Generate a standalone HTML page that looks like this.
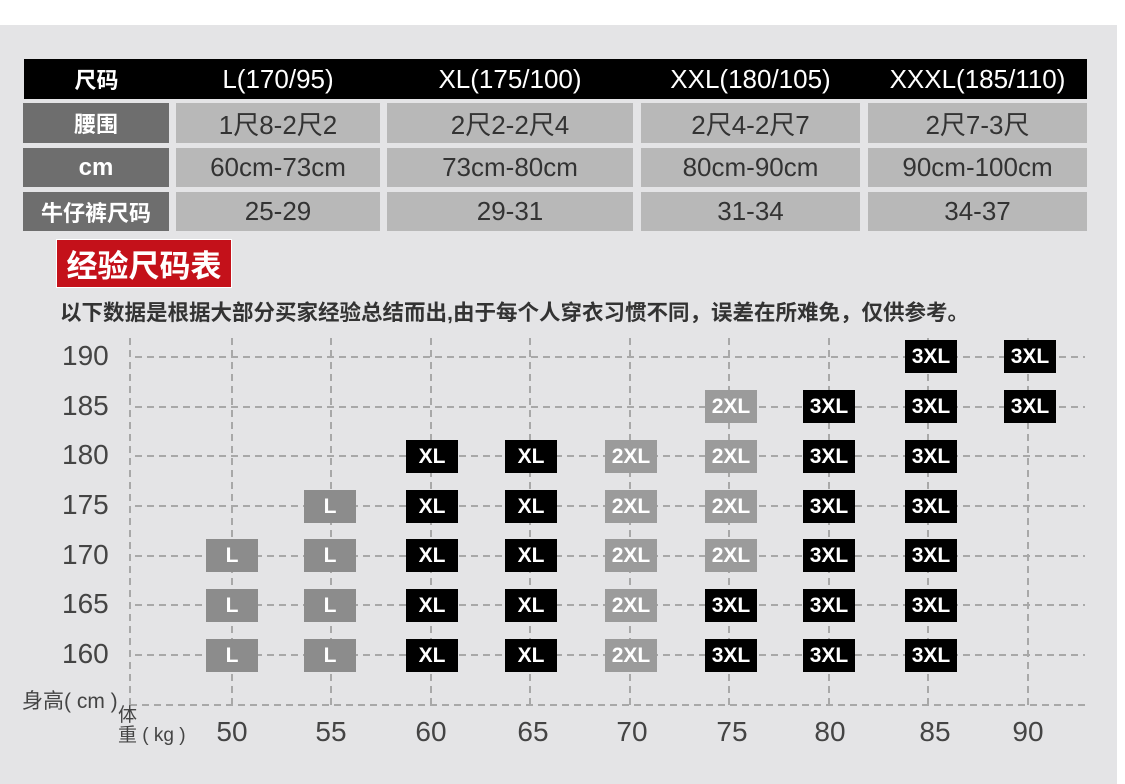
<!DOCTYPE html><html><head><meta charset="utf-8"><style>
*{margin:0;padding:0;box-sizing:border-box}
body{width:1125px;height:784px;background:#fff;position:relative;overflow:hidden;font-family:"Liberation Sans","Noto Sans CJK SC",sans-serif}
.bg{position:absolute;left:0;top:25px;width:1117px;height:759px;background:#e4e4e6}
.c{position:absolute;display:flex;align-items:center;justify-content:center;color:#333;font-size:26px}
.h{background:#000;color:#fff}
.lab{background:#6e6e6e;color:#fff;font-weight:bold;font-size:22px}
.g{background:#b8b8b8}
.b{position:absolute;width:52px;height:33px;display:flex;align-items:center;justify-content:center;color:#fff;font-weight:bold;font-size:21px;font-family:"Liberation Sans",sans-serif}
.k{background:#000}.m{background:#8c8c8c}.n{background:#9b9b9b}
.yl{position:absolute;left:62px;font-size:28px;color:#444;width:60px}
.xl{position:absolute;top:716px;font-size:28px;color:#444;width:60px;text-align:center}
</style></head><body>
<div class="bg"></div>
<div class="c h" style="left:24px;top:59px;width:1063px;height:40px"></div>
<div class="c h" style="left:24px;top:59px;width:145px;height:40px;font-weight:bold;font-size:22px">尺码</div>
<div class="c h" style="left:176px;top:59px;width:204px;height:40px">L(170/95)</div>
<div class="c h" style="left:387px;top:59px;width:246px;height:40px">XL(175/100)</div>
<div class="c h" style="left:641px;top:59px;width:219px;height:40px">XXL(180/105)</div>
<div class="c h" style="left:868px;top:59px;width:219px;height:40px">XXXL(185/110)</div>

<div class="c lab" style="left:23px;top:103px;width:146px;height:40px">腰围</div>
<div class="c g" style="left:176px;top:103px;width:204px;height:40px">1尺8-2尺2</div>
<div class="c g" style="left:387px;top:103px;width:246px;height:40px">2尺2-2尺4</div>
<div class="c g" style="left:641px;top:103px;width:219px;height:40px">2尺4-2尺7</div>
<div class="c g" style="left:868px;top:103px;width:219px;height:40px">2尺7-3尺</div>

<div class="c lab" style="left:23px;top:148px;width:146px;height:39px;font-size:24px">cm</div>
<div class="c g" style="left:176px;top:148px;width:204px;height:39px">60cm-73cm</div>
<div class="c g" style="left:387px;top:148px;width:246px;height:39px">73cm-80cm</div>
<div class="c g" style="left:641px;top:148px;width:219px;height:39px">80cm-90cm</div>
<div class="c g" style="left:868px;top:148px;width:219px;height:39px">90cm-100cm</div>

<div class="c lab" style="left:23px;top:192px;width:146px;height:39px">牛仔裤尺码</div>
<div class="c g" style="left:176px;top:192px;width:204px;height:39px">25-29</div>
<div class="c g" style="left:387px;top:192px;width:246px;height:39px">29-31</div>
<div class="c g" style="left:641px;top:192px;width:219px;height:39px">31-34</div>
<div class="c g" style="left:868px;top:192px;width:219px;height:39px">34-37</div>

<div class="c" style="left:56px;top:239px;width:176px;height:49px;background:#c4111a;color:#fff;font-weight:bold;font-size:31px;border:1px solid #fff">经验尺码表</div>
<div style="position:absolute;left:60px;top:296px;font-size:21.5px;font-weight:bold;color:#333;white-space:nowrap">以下数据是根据大部分买家经验总结而出,由于每个人穿衣习惯不同，误差在所难免，仅供参考。</div>

<svg style="position:absolute;left:0;top:0" width="1125" height="784">
<g stroke="#a8a8a8" stroke-width="2" stroke-dasharray="7,5" fill="none">
<line x1="130" y1="338" x2="130" y2="705"/>
<line x1="130" y1="705" x2="1085" y2="705"/>
<line x1="232" y1="338" x2="232" y2="705"/><line x1="331" y1="338" x2="331" y2="705"/><line x1="431" y1="338" x2="431" y2="705"/><line x1="530" y1="338" x2="530" y2="705"/><line x1="630" y1="338" x2="630" y2="705"/><line x1="729" y1="338" x2="729" y2="705"/><line x1="829" y1="338" x2="829" y2="705"/><line x1="928" y1="338" x2="928" y2="705"/><line x1="1028" y1="338" x2="1028" y2="705"/>
<line x1="135" y1="357" x2="1085" y2="357"/><line x1="135" y1="407" x2="1085" y2="407"/><line x1="135" y1="456" x2="1085" y2="456"/><line x1="135" y1="506" x2="1085" y2="506"/><line x1="135" y1="556" x2="1085" y2="556"/><line x1="135" y1="605" x2="1085" y2="605"/><line x1="135" y1="655" x2="1085" y2="655"/>
</g></svg>

<div class="yl" style="top:340px">190</div><div class="yl" style="top:390px">185</div><div class="yl" style="top:439px">180</div><div class="yl" style="top:489px">175</div><div class="yl" style="top:539px">170</div><div class="yl" style="top:588px">165</div><div class="yl" style="top:638px">160</div>
<div style="position:absolute;left:22px;top:685px;font-size:21px;color:#444">身高( cm )</div>
<div style="position:absolute;left:118px;top:706px;font-size:19px;color:#444;line-height:20px">体<br>重 ( kg )</div>
<div class="xl" style="left:202px">50</div><div class="xl" style="left:301px">55</div><div class="xl" style="left:401px">60</div><div class="xl" style="left:503px">65</div><div class="xl" style="left:602px">70</div><div class="xl" style="left:702px">75</div><div class="xl" style="left:800px">80</div><div class="xl" style="left:905px">85</div><div class="xl" style="left:998px">90</div>

<div class="b k" style="left:905px;top:340px">3XL</div><div class="b k" style="left:1004px;top:340px">3XL</div>
<div class="b n" style="left:705px;top:390px">2XL</div><div class="b k" style="left:803px;top:390px">3XL</div><div class="b k" style="left:905px;top:390px">3XL</div><div class="b k" style="left:1004px;top:390px">3XL</div>
<div class="b k" style="left:406px;top:440px">XL</div><div class="b k" style="left:505px;top:440px">XL</div><div class="b n" style="left:605px;top:440px">2XL</div><div class="b n" style="left:705px;top:440px">2XL</div><div class="b k" style="left:803px;top:440px">3XL</div><div class="b k" style="left:905px;top:440px">3XL</div>
<div class="b m" style="left:304px;top:490px">L</div><div class="b k" style="left:406px;top:490px">XL</div><div class="b k" style="left:505px;top:490px">XL</div><div class="b n" style="left:605px;top:490px">2XL</div><div class="b n" style="left:705px;top:490px">2XL</div><div class="b k" style="left:803px;top:490px">3XL</div><div class="b k" style="left:905px;top:490px">3XL</div>
<div class="b m" style="left:206px;top:539px">L</div><div class="b m" style="left:304px;top:539px">L</div><div class="b k" style="left:406px;top:539px">XL</div><div class="b k" style="left:505px;top:539px">XL</div><div class="b n" style="left:605px;top:539px">2XL</div><div class="b n" style="left:705px;top:539px">2XL</div><div class="b k" style="left:803px;top:539px">3XL</div><div class="b k" style="left:905px;top:539px">3XL</div>
<div class="b m" style="left:206px;top:589px">L</div><div class="b m" style="left:304px;top:589px">L</div><div class="b k" style="left:406px;top:589px">XL</div><div class="b k" style="left:505px;top:589px">XL</div><div class="b n" style="left:605px;top:589px">2XL</div><div class="b k" style="left:705px;top:589px">3XL</div><div class="b k" style="left:803px;top:589px">3XL</div><div class="b k" style="left:905px;top:589px">3XL</div>
<div class="b m" style="left:206px;top:639px">L</div><div class="b m" style="left:304px;top:639px">L</div><div class="b k" style="left:406px;top:639px">XL</div><div class="b k" style="left:505px;top:639px">XL</div><div class="b n" style="left:605px;top:639px">2XL</div><div class="b k" style="left:705px;top:639px">3XL</div><div class="b k" style="left:803px;top:639px">3XL</div><div class="b k" style="left:905px;top:639px">3XL</div>
</body></html>
